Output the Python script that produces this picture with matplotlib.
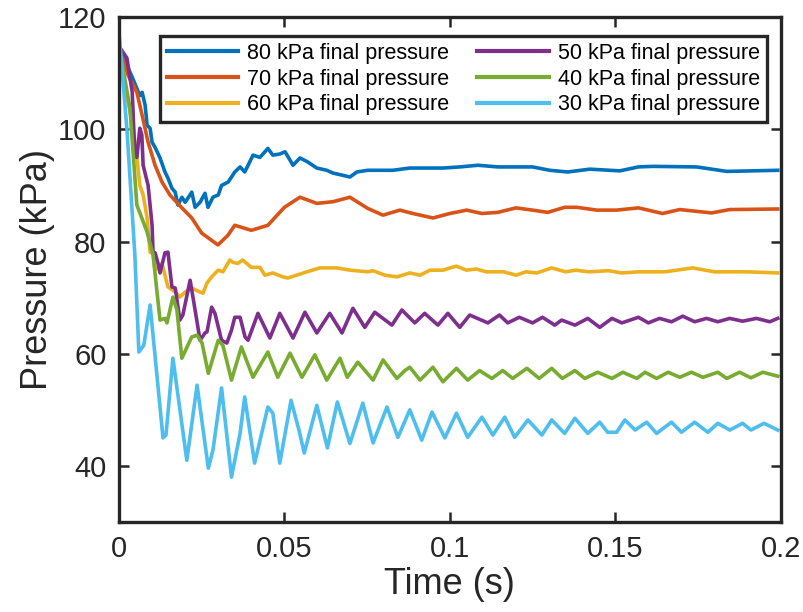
import matplotlib
matplotlib.use("Agg")
import matplotlib.pyplot as plt

plt.rcParams['font.family'] = ['Liberation Sans', 'DejaVu Sans']

# 80 kPa final pressure
t80 = [0, 0.0024, 0.004, 0.0054, 0.0063, 0.007, 0.0079, 0.0085, 0.0094, 0.01, 0.0109, 0.0124, 0.0139,
       0.0148, 0.016, 0.017, 0.0178, 0.019, 0.02, 0.022, 0.023, 0.0245, 0.026, 0.0269, 0.0284, 0.03,
       0.031, 0.033, 0.035, 0.0366, 0.038, 0.0392, 0.0405, 0.0426, 0.045, 0.0465, 0.0486, 0.0502,
       0.0526, 0.0547, 0.057, 0.0598, 0.0628, 0.0647, 0.0677, 0.0698, 0.0719, 0.0752, 0.078, 0.0828,
       0.0879, 0.0979, 0.103, 0.1085, 0.1145, 0.125, 0.1302, 0.1356, 0.1423, 0.1514, 0.157, 0.1613,
       0.1746, 0.1837, 0.1991]
p80 = [114.8, 111.4, 109.3, 107.3, 106, 106.6, 104.3, 100.7, 100.2, 97.7, 96.8, 94.9, 92.4,
       91.3, 89.5, 88.8, 86.5, 87.9, 87, 88.8, 86.1, 87, 88.6, 86.1, 87.9, 88.3,
       90, 90.6, 92.4, 93.3, 92.4, 93.8, 95.4, 95, 96.6, 95.4, 95.6, 96,
       93.6, 94.9, 94.2, 93.1, 92.7, 92.2, 91.8, 91.5, 92.4, 92.7, 92.7, 92.7,
       93.1, 93.1, 93.3, 93.6, 93.3, 93.3, 92.7, 92.4, 92.9, 92.6, 93.3, 93.4,
       93.3, 92.5, 92.7]

# 70 kPa final pressure
t70 = [0, 0.0027, 0.0054, 0.007, 0.0088, 0.0109, 0.013, 0.0154, 0.019, 0.022, 0.025, 0.0299, 0.0329,
       0.035, 0.04, 0.045, 0.05, 0.0547, 0.0598, 0.0647, 0.0698, 0.0752, 0.0798, 0.0849, 0.0888,
       0.0949, 0.1, 0.1051, 0.1097, 0.1145, 0.12, 0.125, 0.1296, 0.1347, 0.1384, 0.1444, 0.1504,
       0.157, 0.1643, 0.1695, 0.1791, 0.1846, 0.1991]
p70 = [114.6, 109.7, 106.6, 102.5, 97.7, 93.6, 90.6, 88.3, 86, 84.2, 81.5, 79.4, 81.1,
       82.9, 82, 82.9, 86.1, 87.9, 86.8, 87.1, 87.9, 85.9, 84.7, 85.6, 85,
       84.2, 85, 85.6, 85, 85.2, 86, 85.6, 85.2, 86.1, 86.1, 85.6, 85.6,
       86, 85, 85.7, 85.1, 85.7, 85.8]

# 60 kPa final pressure
t60 = [0, 0.0021, 0.0042, 0.0054, 0.0063, 0.0073, 0.0085, 0.0094, 0.0103, 0.0109, 0.0118, 0.013,
       0.0148, 0.017, 0.0184, 0.02, 0.022, 0.0245, 0.0254, 0.0266, 0.028, 0.03, 0.0314, 0.0335,
       0.0344, 0.0359, 0.0374, 0.040, 0.0426, 0.0441, 0.0465, 0.0495, 0.051, 0.0537, 0.0568,
       0.0607, 0.0658, 0.0698, 0.0752, 0.0768, 0.0804, 0.084, 0.0879, 0.091, 0.094, 0.098, 0.1,
       0.102, 0.105, 0.108, 0.111, 0.1145, 0.1163, 0.12, 0.123, 0.1263, 0.1308, 0.135, 0.138,
       0.142, 0.148, 0.152, 0.157, 0.165, 0.1734, 0.18, 0.19, 0.1991]
p60 = [113.8, 106.6, 100.7, 94.9, 90, 88.3, 84.2, 78.1, 77.9, 74.9, 75.4, 76.1,
       71.9, 71, 70.1, 71, 71.7, 71, 70.8, 72.6, 73.7, 74.9, 74.6, 76.7,
       76.3, 76.1, 76.7, 75.4, 75.4, 74, 74.4, 73.7, 73.5, 74, 74.6,
       75.3, 75.3, 74.9, 74.6, 74.8, 74, 73.7, 74.4, 74, 74.9, 74.9, 75.3,
       75.6, 74.9, 75.1, 74.6, 74.6, 74.6, 74, 74.6, 74.4, 75.3, 74.6, 74.9,
       74.6, 74.8, 74.4, 74.6, 74.6, 75.3, 74.6, 74.6, 74.4]

# 50 kPa final pressure
t50 = [0, 0.0024, 0.004, 0.0048, 0.0054, 0.0063, 0.0069, 0.0073, 0.0088, 0.01, 0.0103, 0.0109,
       0.0118, 0.0124, 0.0139, 0.0148, 0.016, 0.017, 0.0184, 0.0193, 0.0215, 0.023, 0.0245, 0.026,
       0.0266, 0.028, 0.029, 0.031, 0.0326, 0.034, 0.035, 0.0366, 0.0381, 0.039, 0.042, 0.0456,
       0.0486, 0.0526, 0.0562, 0.0598, 0.0637, 0.0674, 0.0707, 0.0743, 0.0773, 0.0825, 0.0855,
       0.0894, 0.0924, 0.0964, 0.0994, 0.103, 0.106, 0.1115, 0.115, 0.1175, 0.121, 0.125, 0.128,
       0.1317, 0.1338, 0.1378, 0.1417, 0.1453, 0.149, 0.152, 0.157, 0.16, 0.1634, 0.167, 0.1704,
       0.174, 0.1776, 0.181, 0.1846, 0.1885, 0.1927, 0.1967, 0.1991]
p50 = [114.8, 112.7, 106.6, 95.4, 95, 100.2, 99, 93.6, 90, 82.9, 78, 78,
       76.1, 74.4, 78, 78.1, 71.9, 71.7, 66, 66.9, 73.1, 67.8, 62.4, 63.7,
       63.9, 68.3, 67.2, 62.4, 61.9, 64.2, 66.5, 66.5, 63, 62.4, 67.2, 62.8,
       67.2, 62.8, 67.4, 63.7, 67.2, 63.7, 68.1, 64.7, 67.4, 65.1, 67.8,
       65.5, 67.2, 65.1, 67.2, 64.7, 66.9, 65.5, 66.9, 65.5, 66.5, 65.5, 66.5,
       65.1, 66, 65.1, 66.3, 64.7, 66.3, 65.5, 66.5, 65.5, 66.3, 65.7, 66.7,
       65.7, 66.3, 65.7, 66.3, 65.8, 66.3, 65.7, 66.3]

# 40 kPa final pressure
t40 = [0, 0.0033, 0.0054, 0.0085, 0.0103, 0.0124, 0.0139, 0.0145, 0.0163, 0.0175, 0.019, 0.022,
       0.0236, 0.0251, 0.027, 0.030, 0.0314, 0.034, 0.037, 0.0405, 0.045, 0.048, 0.0517, 0.0553,
       0.0592, 0.0628, 0.0668, 0.069, 0.0722, 0.0768, 0.0798, 0.084, 0.0864, 0.0879, 0.091, 0.0949,
       0.0979, 0.102, 0.1054, 0.109, 0.1127, 0.116, 0.119, 0.1233, 0.127, 0.1308, 0.134, 0.1378,
       0.1408, 0.1447, 0.149, 0.1523, 0.1565, 0.159, 0.1625, 0.166, 0.1695, 0.173, 0.1765, 0.181,
       0.1837, 0.1876, 0.191, 0.1946, 0.1991]
p40 = [115, 103.8, 86.5, 81.7, 77.6, 66, 66.3, 65.5, 70.1, 67.8, 59.2, 63,
       63.3, 61.9, 56.5, 62.4, 61.5, 55.3, 61.2, 55.8, 60.3, 55.8, 60.1, 55.8,
       59.8, 55.3, 59.2, 55.8, 58.5, 55.3, 58.9, 55.6, 57, 57.6, 55.3, 57.6,
       55, 57.4, 55.3, 57, 55.6, 57, 55.6, 57.4, 55.6, 57.4, 55.6, 57,
       55.6, 56.7, 55.6, 56.7, 55.6, 56.7, 55.6, 56.7, 55.8, 56.7, 55.8, 56.7,
       55.6, 56.7, 55.7, 56.7, 56]

# 30 kPa final pressure
t30 = [0, 0.0024, 0.0048, 0.006, 0.0075, 0.0094, 0.0133, 0.0142, 0.0163, 0.0205, 0.0236, 0.027,
       0.0284, 0.031, 0.034, 0.0366, 0.038, 0.041, 0.045, 0.0465, 0.0486, 0.052, 0.0544, 0.056,
       0.0598, 0.063, 0.066, 0.0698, 0.0737, 0.0768, 0.081, 0.0843, 0.0879, 0.0915, 0.0946, 0.0985,
       0.102, 0.1054, 0.1097, 0.113, 0.1166, 0.1196, 0.1236, 0.1278, 0.1308, 0.1347, 0.1378, 0.1417,
       0.1453, 0.1477, 0.1504, 0.1529, 0.156, 0.1595, 0.1625, 0.167, 0.170, 0.174, 0.178, 0.181,
       0.1846, 0.1885, 0.191, 0.195, 0.1991]
p30 = [117.3, 100, 77.6, 60.3, 61.5, 68.7, 45, 45.5, 59.2, 41, 54.4, 39.6,
       42.8, 53.9, 38, 45.8, 52.3, 40.5, 50.5, 49.4, 40.5, 51.7, 46.4, 42.3,
       50.8, 43.2, 51.4, 44, 51.2, 44.1, 50.5, 45.1, 50, 44.6, 49.6, 45,
       49.4, 45.1, 48.7, 45.5, 48.7, 45.1, 48.2, 45.5, 48.2, 45.8, 48.5, 45.8,
       47.8, 46, 46, 48.2, 46.4, 47.8, 45.8, 47.8, 46, 47.8, 46, 47.6,
       46.4, 47.6, 46.4, 47.6, 46.4]

labels = ['80 kPa final pressure', '70 kPa final pressure', '60 kPa final pressure',
          '50 kPa final pressure', '40 kPa final pressure', '30 kPa final pressure']
colors = ['#0072BD', '#D95319', '#EDB120', '#7E2F8E', '#77AC30', '#4DBEEE']
series = [(t80, p80), (t70, p70), (t60, p60), (t50, p50), (t40, p40), (t30, p30)]

xticks = [0, 0.05, 0.1, 0.15, 0.2]
xticklabels = ['0', '0.05', '0.1', '0.15', '0.2']
yticks = [40, 60, 80, 100, 120]

dark = '#262626'

fig = plt.figure(figsize=(8.04, 6.12), dpi=100)
ax = fig.add_axes([0.148, 0.147, 0.823, 0.825])

for (t, p), c, lab in zip(series, colors, labels):
    ax.plot(t, p, color=c, lw=2.6, label=lab)

ax.set_xlim(0, 0.2)
ax.set_ylim(30, 120)
ax.set_xticks(xticks)
ax.set_xticklabels(xticklabels)
ax.set_yticks(yticks)
ax.tick_params(direction='in', length=7, width=1.8, top=True, right=True,
               labelsize=21, colors=dark, pad=9)
for s in ax.spines.values():
    s.set_linewidth(2.4)
    s.set_color(dark)

ax.set_xlabel('Time (s)', fontsize=26, color=dark, labelpad=3)
ax.set_ylabel('Pressure (kPa)', fontsize=26, color=dark, labelpad=2)

leg = ax.legend(ncol=2, loc='upper right', bbox_to_anchor=(0.979, 0.962),
                fontsize=15.5, frameon=True, fancybox=False, framealpha=1,
                edgecolor=dark, handlelength=3.3, handletextpad=0.45,
                columnspacing=1.3, labelspacing=0.22, borderpad=0.3,
                borderaxespad=0)
leg.get_frame().set_linewidth(2.4)
for line in leg.get_lines():
    line.set_linewidth(3.0)

fig.savefig('out.png', dpi=100)
